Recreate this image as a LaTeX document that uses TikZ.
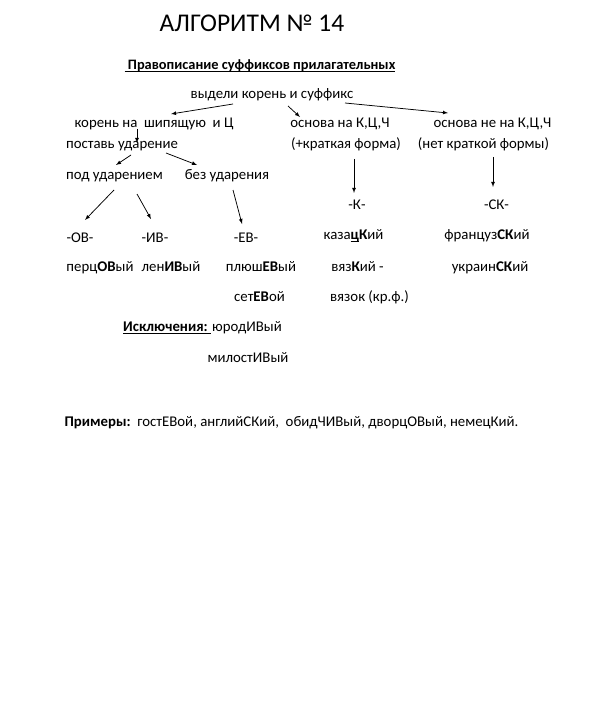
\documentclass[tikz,border=0pt]{standalone}
\usepackage{fontspec}
\setmainfont{Carlito}
\usepackage{tikz}
\usetikzlibrary{arrows}
\tikzstyle{algo}=[x=1pt, y=-1pt, font=\fontsize{14.8}{18}\selectfont]
\tikzstyle{txt}=[inner sep=0pt, anchor=base]
\tikzstyle{ttl}=[txt, font=\fontsize{25.5}{30}\selectfont]
\tikzstyle{hd}=[txt, font=\fontsize{14.4}{18}\selectfont\bfseries]
\tikzstyle{edge}=[->, line width=0.75pt, -latex]
\newcommand{\uln}[1]{\setbox0\hbox{#1}\rlap{\rule[-2.4pt]{\wd0}{0.8pt}}\box0}
\newcommand{\bsuf}[1]{\textbf{#1}}

\begin{document}
\begin{tikzpicture}[algo]
	\useasboundingbox (0,0) rectangle (591,703);
	%The title
	\draw (252,32) node[ttl] (title) {АЛГОРИТМ № 14};
	\draw (260,69.5) node[hd] (head) {\uln{ Правописание суффиксов прилагательных}};
	
	%The first step
	\draw (272,98.5) node[txt] (vydeli) {выдели корень и суффикс};
	\draw (154,128) node[txt] (koren) {корень на\ \ шипящую\ \ и Ц};
	\draw (122,148.5) node[txt] (postav) {поставь ударение};
	\draw (114.5,179.5) node[txt] (pod) {под ударением};
	\draw (227,179.5) node[txt] (bez) {без ударения};
	\draw (340,128) node[txt] (osn1) {основа на К,Ц,Ч};
	\draw (346,148.5) node[txt] (kratk) {(+краткая форма)};
	\draw (492.5,128) node[txt] (osn2) {основа не на К,Ц,Ч};
	\draw (483.5,148.5) node[txt] (netkr) {(нет краткой формы)};
	
	%The suffixes
	\draw (80,242) node[txt] (ov) {-ОВ-};
	\draw (155,242) node[txt] (iv) {-ИВ-};
	\draw (246,242) node[txt] (ev) {-ЕВ-};
	\draw (357,210) node[txt] (k) {-К-};
	\draw (496.5,210) node[txt] (sk) {-СК-};
	
	%The words
	\draw (100,271) node[txt] (percov) {перц\bsuf{ОВ}ый};
	\draw (171,271) node[txt] (leniv) {лен\bsuf{ИВ}ый};
	\draw (261,271) node[txt] (plush) {плюш\bsuf{ЕВ}ый};
	\draw (259.5,301) node[txt] (setev) {сет\bsuf{ЕВ}ой};
	\draw (353.5,239) node[txt] (kazac) {каза\uln{\bsuf{ц}}\bsuf{К}ий};
	\draw (357.5,271) node[txt] (vyazk) {вяз\bsuf{К}ий -};
	\draw (369.5,301) node[txt] (vyazok) {вязок (кр.ф.)};
	\draw (487,239) node[txt] (franc) {француз\bsuf{СК}ий};
	\draw (490,271) node[txt] (ukr) {украин\bsuf{СК}ий};
	
	%The exceptions
	\draw (123,331) node[txt, anchor=base west] (iskl) {\uln{\bsuf{Исключения:}\ }};
	\draw (247,331) node[txt] (yurod) {юродИВый};
	\draw (248,362) node[txt] (milost) {милостИВый};
	
	%The examples
	\draw (291.5,426) node[txt] (prim) {\bsuf{Примеры:}\ \ гостЕВой, английСКий,\ \ обидЧИВый, дворцОВый, немецКий.};
	
	%The arrows
	\draw[edge] ([shift={(-39,5.5)}]vydeli.base) -- ([shift={(17,-14)}]koren.base);
	\draw[edge] ([shift={(16,7.5)}]vydeli.base) -- ([shift={(-40,-11)}]osn1.base);
	\draw[edge] ([shift={(73,4.5)}]vydeli.base) -- ([shift={(-44.5,-15)}]osn2.base);
	\draw[edge] ([shift={(-17,1)}]koren.base) -- ([shift={(15,-5.5)}]postav.base);
	\draw[edge] ([shift={(9,6.5)}]postav.base) -- ([shift={(1.5,-14.5)}]pod.base);
	\draw[edge] ([shift={(44,4.5)}]postav.base) -- ([shift={(-30,-14.5)}]bez.base);
	\draw[edge] ([shift={(-0.5,10.5)}]pod.base) -- ([shift={(5,-22)}]ov.base);
	\draw[edge] ([shift={(22.5,14.5)}]pod.base) -- ([shift={(-4,-23)}]iv.base);
	\draw[edge] ([shift={(6,10.5)}]bez.base) -- ([shift={(-4,-18)}]ev.base);
	\draw[edge] ([shift={(8,10.5)}]kratk.base) -- ([shift={(-3,-17)}]k.base);
	\draw[edge] ([shift={(9.5,8.5)}]netkr.base) -- ([shift={(-3.5,-23)}]sk.base);
\end{tikzpicture}
\end{document}
